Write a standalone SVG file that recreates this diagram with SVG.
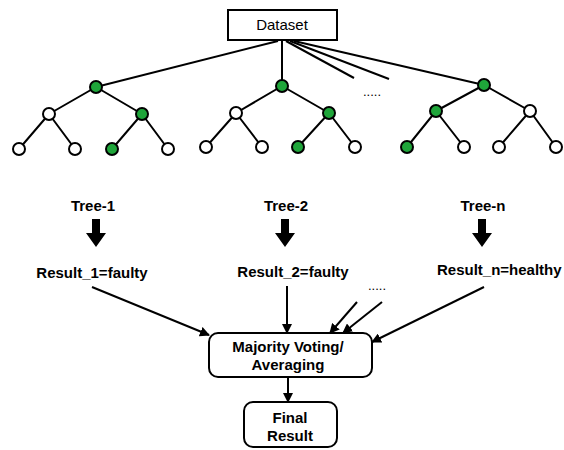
<svg xmlns="http://www.w3.org/2000/svg" width="564" height="450" viewBox="0 0 564 450">
<style>
.e{stroke:#000;stroke-width:2;fill:none}
.w{fill:#fff;stroke:#000;stroke-width:2}
.g{fill:#1fa53a;stroke:#000;stroke-width:2}
.t{font-family:"Liberation Sans",Arial,sans-serif;font-weight:bold;font-size:15px;fill:#000;text-anchor:middle}
.box{fill:#fff;stroke:#000;stroke-width:2}
</style>
<defs>
<marker id="ah" viewBox="0 0 10 10" refX="9" refY="5" markerWidth="10" markerHeight="10" markerUnits="userSpaceOnUse" orient="auto">
<path d="M0,0 L10,5 L0,10 z" fill="#000"/>
</marker>
</defs>
<g id="dataset">
<rect class="box" x="228" y="10" width="109" height="30"/>
<text x="282" y="30" style="font-family:'Liberation Sans',Arial,sans-serif;font-size:15px;text-anchor:middle">Dataset</text>
</g>
<g id="connectors">
<line class="e" x1="278" y1="41" x2="96" y2="87"/>
<line class="e" x1="282" y1="41" x2="282" y2="86"/>
<line class="e" x1="286" y1="41" x2="354" y2="78"/>
<line class="e" x1="290" y1="41" x2="389" y2="79"/>
<line class="e" x1="294" y1="41" x2="484" y2="85"/>
<line class="e" x1="92" y1="287" x2="209" y2="335" marker-end="url(#ah)"/>
<line class="e" x1="287" y1="286" x2="287" y2="333" marker-end="url(#ah)"/>
<line class="e" x1="357" y1="302" x2="330" y2="333" marker-end="url(#ah)"/>
<line class="e" x1="382" y1="302" x2="343" y2="333" marker-end="url(#ah)"/>
<line class="e" x1="484" y1="287" x2="372" y2="342" marker-end="url(#ah)"/>
<line class="e" x1="288" y1="377" x2="288" y2="402" marker-end="url(#ah)"/>
<path d="M92,219 h8 v14 h6 l-10,14 l-10,-14 h6 z" fill="#000"/>
<path d="M281,219 h8 v14 h6 l-10,14 l-10,-14 h6 z" fill="#000"/>
<path d="M478,219 h8 v14 h6 l-10,14 l-10,-14 h6 z" fill="#000"/>
</g>
<g id="tree-1">
<path class="e" d="M96,87 L49,114 M96,87 L142,114 M49,114 L19,149 M49,114 L75,149 M142,114 L112,149 M142,114 L168,149"/>
<circle class="g" cx="96" cy="87" r="6"/>
<circle class="w" cx="49" cy="114" r="6"/>
<circle class="g" cx="142" cy="114" r="6"/>
<circle class="w" cx="19" cy="149" r="6"/>
<circle class="w" cx="75" cy="149" r="6"/>
<circle class="g" cx="112" cy="149" r="6"/>
<circle class="w" cx="168" cy="149" r="6"/>
</g>
<g id="tree-2">
<path class="e" d="M282,86 L236,113 M282,86 L329,113 M236,113 L206,147 M236,113 L262,147 M329,113 L298,147 M329,113 L355,147"/>
<circle class="g" cx="282" cy="86" r="6"/>
<circle class="w" cx="236" cy="113" r="6"/>
<circle class="g" cx="329" cy="113" r="6"/>
<circle class="w" cx="206" cy="147" r="6"/>
<circle class="w" cx="262" cy="147" r="6"/>
<circle class="g" cx="298" cy="147" r="6"/>
<circle class="w" cx="355" cy="147" r="6"/>
</g>
<g id="tree-n">
<path class="e" d="M484,85 L436,111 M484,85 L530,111 M436,111 L407,147 M436,111 L464,147 M530,111 L499,147 M530,111 L556,147"/>
<circle class="g" cx="484" cy="85" r="6"/>
<circle class="g" cx="436" cy="111" r="6"/>
<circle class="w" cx="530" cy="111" r="6"/>
<circle class="g" cx="407" cy="147" r="6"/>
<circle class="w" cx="464" cy="147" r="6"/>
<circle class="w" cx="499" cy="147" r="6"/>
<circle class="w" cx="556" cy="147" r="6"/>
</g>
<g id="dots-1"><text x="372" y="96" style="font-family:'Liberation Sans',Arial,sans-serif;font-size:13px;text-anchor:middle">.....</text></g>
<g id="dots-2"><text x="377" y="290" style="font-family:'Liberation Sans',Arial,sans-serif;font-size:13px;text-anchor:middle">.....</text></g>
<g id="label-tree-1"><text class="t" x="93" y="211">Tree-1</text></g>
<g id="label-tree-2"><text class="t" x="286" y="211">Tree-2</text></g>
<g id="label-tree-n"><text class="t" x="483" y="211">Tree-n</text></g>
<g id="result-1"><text class="t" x="92" y="278">Result_1=faulty</text></g>
<g id="result-2"><text class="t" x="293" y="277">Result_2=faulty</text></g>
<g id="result-n"><text class="t" x="437" y="275" style="text-anchor:start">Result_n=healthy</text></g>
<g id="majority">
<rect class="box" x="209" y="333" width="163" height="44" rx="9"/>
<text class="t" x="288" y="352">Majority Voting/</text>
<text class="t" x="288" y="370">Averaging</text>
</g>
<g id="final">
<rect class="box" x="244" y="402" width="93" height="45" rx="9"/>
<text class="t" x="290" y="423">Final</text>
<text class="t" x="290" y="441">Result</text>
</g>
</svg>
